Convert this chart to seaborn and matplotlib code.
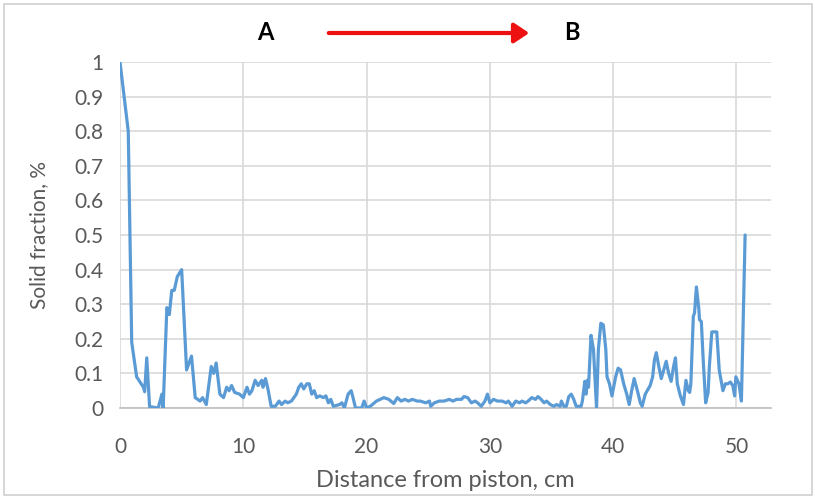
import matplotlib
matplotlib.use("Agg")
import matplotlib.pyplot as plt
import seaborn as sns
import pandas as pd
from matplotlib.patches import Rectangle, FancyArrowPatch

distance_cm = [0, 0.67, 0.95, 1.35, 1.9, 2.0, 2.17, 2.4, 3.1, 3.4, 3.5, 3.8, 4.0, 4.2, 4.4,
               4.65, 5.0, 5.4, 5.8, 6.1, 6.5, 6.7, 7.0, 7.4, 7.6, 7.8, 8.1, 8.4, 8.65, 8.85,
               9.05, 9.3, 9.7, 10.0, 10.3, 10.5, 10.7, 10.96, 11.2, 11.5, 11.6, 11.8, 12.0,
               12.26, 12.6, 12.9, 13.1, 13.4, 13.6, 13.9, 14.3, 14.5, 14.7, 14.9, 15.15, 15.35,
               15.55, 15.75, 15.95, 16.2, 16.5, 16.7, 16.9, 17.1, 17.3, 17.8, 18.0, 18.2, 18.5,
               18.75, 18.9, 19.1, 19.6, 19.8, 20.0, 20.3, 20.8, 21.4, 21.8, 22.2, 22.5, 22.8,
               23.1, 23.4, 23.7, 24.1, 24.35, 24.8, 25.1, 25.2, 25.5, 25.9, 26.3, 26.7, 27.0,
               27.3, 27.7, 27.9, 28.2, 28.5, 28.8, 29.0, 29.3, 29.6, 29.8, 30.0, 30.3, 30.6,
               31.0, 31.3, 31.5, 31.8, 32.1, 32.4, 32.6, 32.9, 33.1, 33.4, 33.7, 33.9, 34.1,
               34.4, 34.6, 34.9, 35.2, 35.4, 35.7, 35.8, 36.0, 36.2, 36.4, 36.6, 36.8, 37.0,
               37.4, 37.5, 37.7, 37.8, 37.9, 38.0, 38.2, 38.4, 38.55, 38.65, 38.8, 39.0, 39.2,
               39.4, 39.5, 39.7, 39.9, 40.2, 40.4, 40.6, 40.85, 41.1, 41.3, 41.5, 41.7, 42.0,
               42.2, 42.35, 42.6, 43.0, 43.2, 43.35, 43.5, 43.7, 43.9, 44.1, 44.3, 44.5, 44.7,
               44.9, 45.05, 45.2, 45.45, 45.7, 45.9, 46.1, 46.2, 46.3, 46.5, 46.6, 46.75, 46.95,
               47.0, 47.15, 47.3, 47.5, 47.7, 47.8, 48.0, 48.4, 48.6, 48.7, 48.9, 49.1, 49.3,
               49.5, 49.7, 49.85, 49.95, 50.2, 50.4, 50.7]

solid_fraction = [1.0, 0.80, 0.19, 0.09, 0.06, 0.047, 0.145, 0.004, 0.0, 0.04, 0.0, 0.29, 0.27,
                  0.34, 0.34, 0.38, 0.40, 0.11, 0.15, 0.03, 0.02, 0.03, 0.01, 0.12, 0.10, 0.13,
                  0.04, 0.03, 0.06, 0.05, 0.065, 0.045, 0.04, 0.03, 0.06, 0.04, 0.05, 0.08,
                  0.065, 0.08, 0.06, 0.085, 0.055, 0.005, 0.005, 0.02, 0.01, 0.02, 0.015, 0.02,
                  0.04, 0.06, 0.07, 0.055, 0.07, 0.07, 0.04, 0.05, 0.03, 0.035, 0.03, 0.035,
                  0.015, 0.025, 0.005, 0.01, 0.015, 0.0, 0.04, 0.05, 0.03, 0.0, 0.0, 0.02, 0.0,
                  0.005, 0.02, 0.03, 0.025, 0.013, 0.03, 0.02, 0.025, 0.02, 0.025, 0.02, 0.02,
                  0.015, 0.02, 0.005, 0.015, 0.02, 0.02, 0.025, 0.02, 0.025, 0.025, 0.033, 0.03,
                  0.015, 0.02, 0.015, 0.005, 0.02, 0.04, 0.015, 0.025, 0.02, 0.02, 0.015, 0.02,
                  0.005, 0.02, 0.015, 0.02, 0.015, 0.02, 0.03, 0.025, 0.033, 0.027, 0.015, 0.02,
                  0.01, 0.005, 0.01, 0.005, 0.02, 0.005, 0.005, 0.033, 0.04, 0.025, 0.005, 0.005,
                  0.02, 0.077, 0.04, 0.08, 0.06, 0.21, 0.17, 0.07, 0.0, 0.17, 0.245, 0.24, 0.17,
                  0.09, 0.07, 0.035, 0.09, 0.115, 0.11, 0.07, 0.04, 0.01, 0.05, 0.085, 0.045,
                  0.015, 0.005, 0.04, 0.065, 0.09, 0.14, 0.16, 0.12, 0.085, 0.11, 0.135, 0.1,
                  0.077, 0.12, 0.145, 0.07, 0.035, 0.01, 0.08, 0.05, 0.045, 0.07, 0.265, 0.275,
                  0.35, 0.285, 0.255, 0.25, 0.14, 0.015, 0.045, 0.12, 0.22, 0.22, 0.11, 0.09,
                  0.05, 0.07, 0.07, 0.075, 0.065, 0.035, 0.09, 0.07, 0.02, 0.50]

x_ticks = [0, 10, 20, 30, 40, 50]
y_ticks = [0, 0.1, 0.2, 0.3, 0.4, 0.5, 0.6, 0.7, 0.8, 0.9, 1.0]
y_tick_labels = ["0", "0.1", "0.2", "0.3", "0.4", "0.5", "0.6", "0.7", "0.8", "0.9", "1"]

sns.set_style("white")
plt.rcParams["font.family"] = ["Lato", "DejaVu Sans"]

df = pd.DataFrame({"distance": distance_cm, "solid": solid_fraction})

fig = plt.figure(figsize=(8.15, 4.97), dpi=100)
ax = fig.add_axes([120 / 815, 1 - 408 / 497, (771 - 120) / 815, (408 - 62) / 497])

sns.lineplot(data=df, x="distance", y="solid", ax=ax, sort=False, color="#5b9bd5",
             linewidth=2.3, zorder=3)

ax.set_xlim(0, 52.8)
ax.set_ylim(0, 1.0)
ax.set_xticks(x_ticks)
ax.set_xticklabels([str(t) for t in x_ticks])
ax.set_yticks(y_ticks)
ax.set_yticklabels(y_tick_labels)
ax.grid(True, color="#d9d9d9", linewidth=1.2, zorder=0)
ax.set_axisbelow(True)
for side in ["top", "right", "left"]:
    ax.spines[side].set_visible(False)
ax.spines["bottom"].set_color("#bfbfbf")
ax.spines["bottom"].set_linewidth(1.2)
ax.tick_params(axis="both", length=0, labelsize=15, colors="#595959")
ax.tick_params(axis="x", pad=21)
ax.tick_params(axis="y", pad=12)
ax.set_xlabel("Distance from piston, cm", fontsize=17, color="#595959", labelpad=9)
ax.set_ylabel("Solid fraction, %", fontsize=15, color="#595959")
ax.yaxis.set_label_coords(-(120 - 49) / 651, 0.5)

# Figure frame
fig.patches.append(Rectangle((4 / 815, 2 / 497), 808 / 815, 491 / 497, transform=fig.transFigure,
                             fill=False, edgecolor="#d0d0d0", linewidth=1.2))

# A -> B annotation
fig.text(265 / 815, 1 - 33 / 497, "A", fontsize=17, fontweight="bold", color="black",
         ha="center", va="center")
fig.text(572 / 815, 1 - 33 / 497, "B", fontsize=17, fontweight="bold", color="black",
         ha="center", va="center")
arrow = FancyArrowPatch((326 / 815, 1 - 33 / 497), (532 / 815, 1 - 33 / 497),
                        transform=fig.transFigure, arrowstyle="-|>,head_length=6,head_width=4",
                        color="#ee1111", linewidth=3, mutation_scale=1.5)
fig.patches.append(arrow)

fig.savefig("out.png", dpi=100)
